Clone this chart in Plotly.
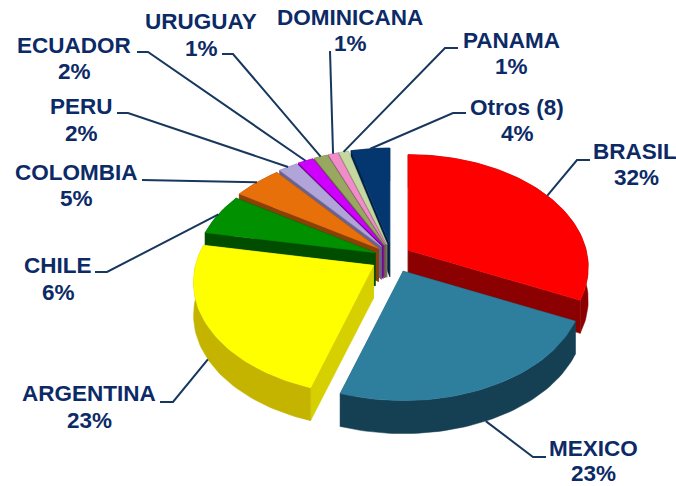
import math
import plotly.graph_objects as go

# --- data ---
categories = ["BRASIL", "MEXICO", "ARGENTINA", "CHILE", "COLOMBIA", "PERU", "ECUADOR",
              "URUGUAY", "DOMINICANA", "PANAMA", "Otros (8)"]
values = [32, 22.9, 23.1, 6, 5, 2, 1.6, 1.4, 1, 1, 4]
percent_labels = ["32%", "23%", "23%", "6%", "5%", "2%", "2%", "1%", "1%", "1%", "4%"]

# --- style / layout ---
top_colors = ["#FF0000", "#2E7F9E", "#FFFF00", "#009000", "#E8700A", "#B0A4D8", "#D000FF",
              "#98A860", "#F08CC8", "#C4D8A0", "#04376F"]
side_colors = ["#8B0000", "#153F52", "#C4B400", "#004D00", "#8A4006", "#6A6290", "#7A0099",
               "#5C6539", "#905478", "#768260", "#002246"]
face_colors = ["#8B0000", "#1E5468", "#D6D000", "#004D00", "#8A4006", "#6A6290", "#7A0099",
               "#5C6539", "#905478", "#768260", "#002246"]
name_xy = [(634.5, 151), (593, 448), (89, 393), (58, 265), (76, 172), (81, 106), (74, 45),
           (201, 21), (350, 17), (511, 40), (517, 107)]
pct_xy = [(636, 177), (593, 473), (89, 420), (58, 292), (76, 198), (81, 133), (74, 71),
          (201, 48), (350, 43), (511, 66), (517, 133)]
elbows = [[(577, 160), (590, 160)], [(533, 457), (546, 457)], [(173, 402), (160, 402)],
          [(107, 272), (95, 272)], [(142, 180)], [(128, 113), (117, 113)],
          [(148, 52), (137, 52)], [(233, 54), (222, 54)], [(330, 51)],
          [(445, 48), (458, 48)], [(453, 113), (466, 113)]]
x_nudge = [1, 4, -3, 0, 0, 0, 0, 0, 0, 0, 0]
leader_frac = [0.5, 0.5, 0.5, 0.5, 0.5, 0.5, 0.5, 0.5, 0.5, 0.5, 0.5]
CX, CY = 392, 258
RX, RY, PERSP = 178, 110, 0.15
DEPTH = 33
PULL = 18
NAVY = "#0B2A66"
LEADER = "#17375E"
draw_order = [10, 9, 8, 7, 6, 5, 4, 3, 0, 2, 1]


def rim(theta, ax, ay):
    s = 1 / (1 + PERSP * math.cos(theta))
    return ax + RX * math.sin(theta) * s, ay - RY * math.cos(theta) * s


total = sum(values)
slices = []
acc = 0.0
for i, v in enumerate(values):
    a0 = acc / total * 2 * math.pi
    acc += v
    a1 = acc / total * 2 * math.pi
    mid = (a0 + a1) / 2
    ax = CX + PULL * math.sin(mid) + x_nudge[i]
    ay = CY - PULL * 0.8 * math.cos(mid)
    slices.append((a0, a1, mid, ax, ay))

fig = go.Figure()


def poly(pts, color):
    xs = [p[0] for p in pts] + [pts[0][0]]
    ys = [p[1] for p in pts] + [pts[0][1]]
    fig.add_trace(go.Scatter(x=xs, y=ys, mode="lines", fill="toself", fillcolor=color,
                             line=dict(color=color, width=0.5), hoverinfo="skip",
                             showlegend=False))


def drop(p):
    return (p[0], p[1] + DEPTH)


for i in draw_order:
    a0, a1, mid, ax, ay = slices[i]
    n = max(6, int((a1 - a0) * 40))
    arc = [rim(a0 + (a1 - a0) * k / n, ax, ay) for k in range(n + 1)]
    apex = (ax, ay)
    poly([apex, arc[0], drop(arc[0]), drop(apex)], face_colors[i])
    poly([apex, arc[-1], drop(arc[-1]), drop(apex)], face_colors[i])
    poly(arc + [drop(p) for p in reversed(arc)], side_colors[i])
    poly([apex] + arc, top_colors[i])

for i, name in enumerate(categories):
    a0, a1, mid, ax, ay = slices[i]
    theta = a0 + (a1 - a0) * leader_frac[i]
    depth = DEPTH if math.cos(theta) < -0.3 else 0
    x0, y0 = rim(theta, ax, ay)
    pts = [(x0, y0 + depth)] + elbows[i]
    fig.add_trace(go.Scatter(x=[p[0] for p in pts], y=[p[1] for p in pts], mode="lines",
                             line=dict(color=LEADER, width=2), hoverinfo="skip", showlegend=False))
    for (tx, ty), txt in ((name_xy[i], name), (pct_xy[i], percent_labels[i])):
        fig.add_annotation(x=tx, y=ty, text=f"<b>{txt}</b>", showarrow=False,
                           xanchor="center", yanchor="middle", align="center",
                           font=dict(family="Liberation Sans", size=22.5, color=NAVY))

fig.update_layout(width=676, height=486, margin=dict(l=0, r=0, t=0, b=0),
                  paper_bgcolor="white", plot_bgcolor="white", showlegend=False,
                  xaxis=dict(range=[0, 676], visible=False, fixedrange=True),
                  yaxis=dict(range=[486, 0], visible=False, fixedrange=True))
fig.write_html("out.html", config={"displayModeBar": False},
               post_script="document.body.style.margin='0';")
